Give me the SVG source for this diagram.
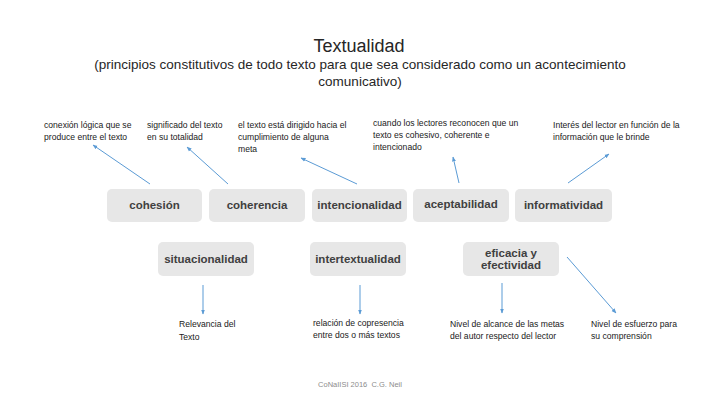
<svg xmlns="http://www.w3.org/2000/svg" width="720" height="405" viewBox="0 0 720 405">
<style>
.title{font-family:"Liberation Sans",Arial,sans-serif;font-size:18px;fill:#262626;text-anchor:middle}
.sub{font-family:"Liberation Sans",Arial,sans-serif;font-size:13.5px;fill:#262626;text-anchor:middle}
.lbl{font-family:"Liberation Sans",Arial,sans-serif;font-size:8.6px;fill:#1a1a1a}
.box{fill:#e7e7e7}
.bt{font-family:"Liberation Sans",Arial,sans-serif;font-size:11.5px;font-weight:bold;fill:#404040;text-anchor:middle}
.conn{stroke:#5b9bd5;stroke-width:1;fill:none;marker-end:url(#ah)}
.foot{font-family:"Liberation Sans",Arial,sans-serif;font-size:7.5px;fill:#8c8c8c;text-anchor:middle;white-space:pre}
</style>
<defs>
<marker id="ah" viewBox="0 0 10 10" refX="9" refY="5" markerWidth="5" markerHeight="5" orient="auto" markerUnits="userSpaceOnUse">
<path d="M0,1 L10,5 L0,9 z" fill="#5b9bd5"/>
</marker>
</defs>
<rect width="720" height="405" fill="#ffffff"/>
<g id="title">
<text class="title" x="359" y="52">Textualidad</text>
<text class="sub" x="360" y="69">(principios constitutivos de todo texto para que sea considerado como un acontecimiento</text>
<text class="sub" x="360" y="86">comunicativo)</text>
</g>
<g id="labels">
<text class="lbl" x="44" y="128">conexión lógica que se</text>
<text class="lbl" x="44" y="140">produce entre el texto</text>
<text class="lbl" x="147" y="128">significado del texto</text>
<text class="lbl" x="147" y="140">en su totalidad</text>
<text class="lbl" x="238" y="128">el texto está dirigido hacia el</text>
<text class="lbl" x="238" y="140">cumplimiento de alguna</text>
<text class="lbl" x="238" y="152">meta</text>
<text class="lbl" x="373" y="126">cuando los lectores reconocen que un</text>
<text class="lbl" x="373" y="138">texto es cohesivo, coherente e</text>
<text class="lbl" x="373" y="150">intencionado</text>
<text class="lbl" x="553" y="128">Interés del lector en función de la</text>
<text class="lbl" x="553" y="140">información que le brinde</text>
<text class="lbl" x="179" y="327">Relevancia del</text>
<text class="lbl" x="179" y="340">Texto</text>
<text class="lbl" x="313" y="326">relación de copresencia</text>
<text class="lbl" x="313" y="338">entre dos o más textos</text>
<text class="lbl" x="450" y="327">Nivel de alcance de las metas</text>
<text class="lbl" x="450" y="339">del autor respecto del lector</text>
<text class="lbl" x="591" y="327">Nivel de esfuerzo para</text>
<text class="lbl" x="591" y="339">su comprensión</text>
</g>
<g id="cohesion"><rect class="box" x="107" y="189" width="95" height="33" rx="5"/><text class="bt" x="154.5" y="209">cohesión</text></g>
<g id="coherencia"><rect class="box" x="209" y="189" width="96" height="33" rx="5"/><text class="bt" x="257" y="209">coherencia</text></g>
<g id="intencionalidad"><rect class="box" x="312" y="189" width="95" height="33" rx="5"/><text class="bt" x="359.5" y="209">intencionalidad</text></g>
<g id="aceptabilidad"><rect class="box" x="413" y="189" width="96" height="33" rx="5"/><text class="bt" x="461" y="208">aceptabilidad</text></g>
<g id="informatividad"><rect class="box" x="515" y="189" width="97" height="33" rx="5"/><text class="bt" x="563.5" y="209">informatividad</text></g>
<g id="situacionalidad"><rect class="box" x="158" y="242" width="96" height="34" rx="5"/><text class="bt" x="206" y="263">situacionalidad</text></g>
<g id="intertextualidad"><rect class="box" x="310" y="242" width="96" height="34" rx="5"/><text class="bt" x="358" y="263">intertextualidad</text></g>
<g id="eficacia"><rect class="box" x="463" y="242" width="96" height="34" rx="5"/><text class="bt" x="511" y="257">eficacia y</text><text class="bt" x="511" y="269">efectividad</text></g>
<g id="connectors">
<line class="conn" x1="150" y1="184" x2="93" y2="145"/>
<line class="conn" x1="228" y1="184" x2="187" y2="147"/>
<line class="conn" x1="357" y1="184" x2="301" y2="158"/>
<line class="conn" x1="459" y1="183" x2="453" y2="157"/>
<line class="conn" x1="568" y1="183" x2="609" y2="154"/>
<line class="conn" x1="203" y1="285" x2="203" y2="314"/>
<line class="conn" x1="360" y1="285" x2="360" y2="314"/>
<line class="conn" x1="502" y1="283" x2="502" y2="313"/>
<line class="conn" x1="567" y1="257" x2="616" y2="313"/>
</g>
<g id="footer"><text class="foot" x="360" y="387">CoNaIISI 2016  C.G. Neil</text></g>
</svg>
